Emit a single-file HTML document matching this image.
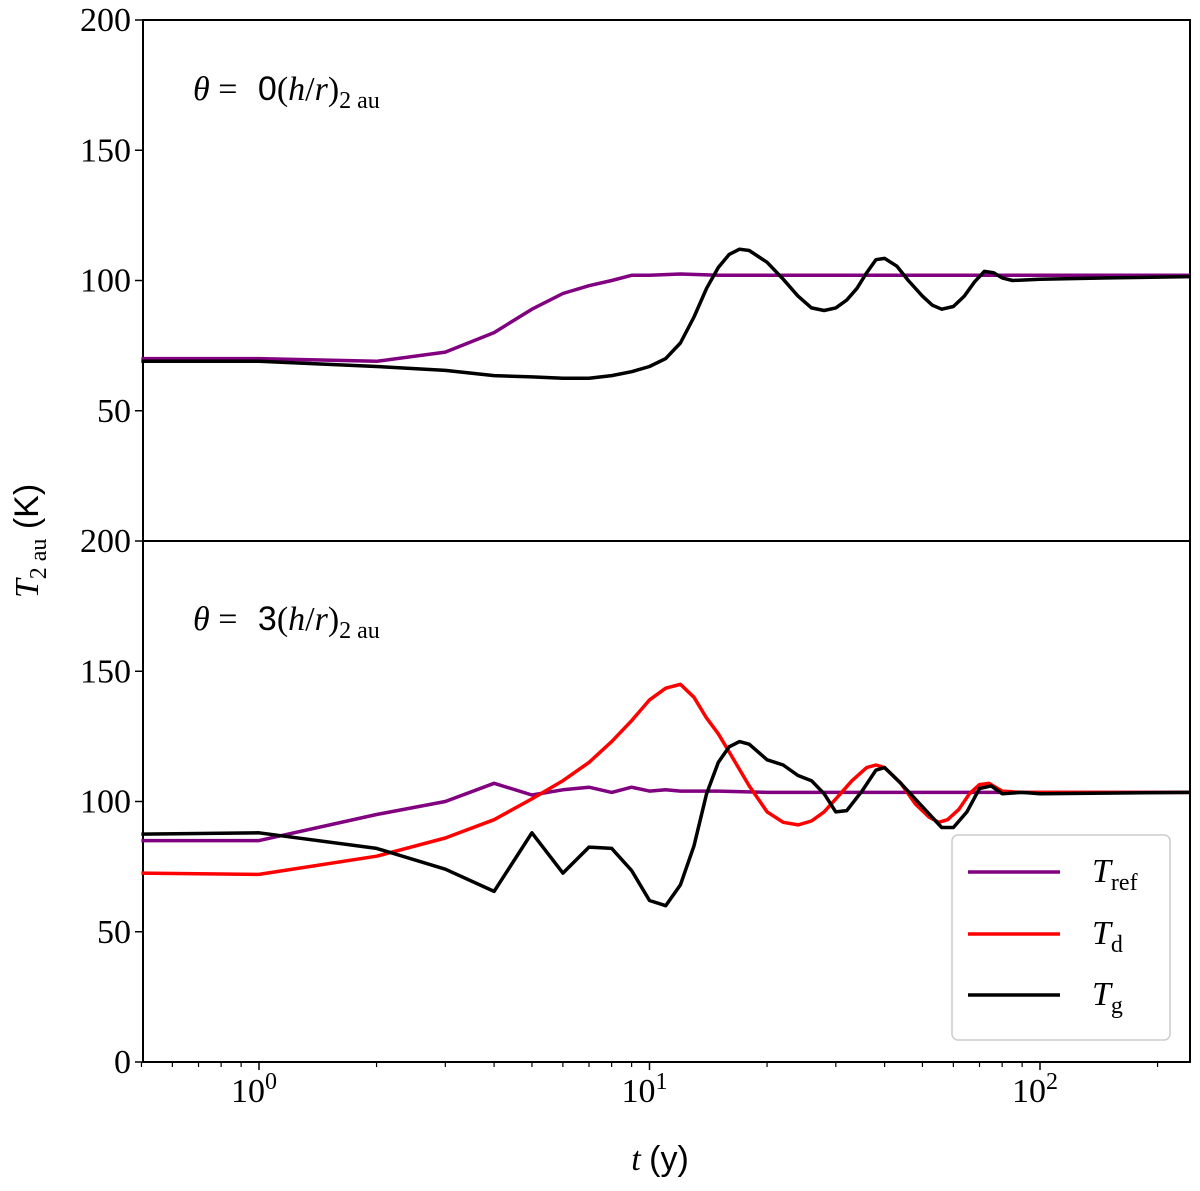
<!DOCTYPE html>
<html><head><meta charset="utf-8"><style>
body{margin:0;background:#fff}
svg text{font-family:"Liberation Serif","DejaVu Serif",serif;fill:#000}
</style></head><body>
<svg id="c" width="1200" height="1186" xmlns="http://www.w3.org/2000/svg"></svg>
<script>
// ---- data ----
const topRefT=[0.5,1,2,3,4,5,6,7,8,9,10,12,15,20,50,100,242];
const topRefV=[70,70,69,72.5,80,89,95,98,100,102,102,102.5,102,102,102,102,102];
const topGasT=[0.5,1,2,3,4,5,6,7,8,9,10,11,12,13,14,15,16,17,18,20,22,24,26,28,30,32,34,36,38,40,43,46,50,53,56,60,64,68,72,76,80,85,100,150,242];
const topGasV=[69,69,67,65.5,63.5,63,62.5,62.5,63.5,65,67,70,76,86,97,105,110,112,111.5,107,100.5,94,89.5,88.5,89.5,92.5,97,103,108,108.5,105.5,100,94,90.5,89,90,94,99.5,103.5,103,101,100,100.5,101,101.5];
const botRefT=[0.5,1,2,3,4,5,6,7,8,9,10,11,12,13,15,20,30,50,100,242];
const botRefV=[85,85,95,100,107,102.5,104.5,105.5,103.5,105.5,104,104.5,104,104,104,103.5,103.5,103.5,103.5,103.5];
const botDustT=[0.5,1,2,3,4,5,6,7,8,9,10,11,12,13,14,15,16,18,20,22,24,26,28,30,33,36,38,40,44,48,52,55,58,62,66,70,74,80,90,100,242];
const botDustV=[72.5,72,79,86,93,101,108,115,123,131,139,143.5,145,140,132,126,119,106,96,92,91,92.5,96,101,108,113,114,113,107,99,94,92,93,97,103,106.5,107,104,103.5,103.5,103.5];
const botGasT=[0.5,1,2,3,4,5,6,7,8,9,10,11,12,13,14,15,16,17,18,20,22,24,26,28,30,32,35,38,40,44,50,56,60,65,70,75,80,90,100,242];
const botGasV=[87.5,88,82,74,65.5,88,72.5,82.5,82,73.5,62,60,68,83,103,115,121,123,122,116,114,110,108,103,96,96.5,104,112,113,107,98,90,90,96,105,106,103,103.5,103,103.5];
const yTicks=[0,50,100,150,200];
const xTicks=[1,10,100];

const svg=document.getElementById('c');
const NS='http://www.w3.org/2000/svg';
const L=143,R=1190,dec=390.5,x0=259;
const X=t=>x0+dec*Math.log10(t);
function mk(tag,attrs,name,parent){const e=document.createElementNS(NS,tag);for(const k in attrs)e.setAttribute(k,attrs[k]);


(parent||svg).appendChild(e);return e;}
const panels=[{top:20,bot:541,name:'top-panel'},{top:541,bot:1062,name:'bottom-panel'}];
panels.forEach((p,pi)=>{
  const Y=v=>p.bot-(v/200)*(p.bot-p.top);
  p.Y=Y;
  mk('rect',{x:L,y:p.top,width:R-L,height:p.bot-p.top,fill:'none',stroke:'#000','stroke-width':2},p.name+'-frame');
  yTicks.forEach(v=>{
    if(pi==0&&v==0)return;
    mk('line',{x1:L-8,x2:L,y1:Y(v),y2:Y(v),stroke:'#000','stroke-width':1.5},'y-tick');
    const t=mk('text',{x:L-12,y:Y(v)+11,'text-anchor':'end','font-size':34},'y-tick-label');t.textContent=v;
  });
  if(pi==1)for(let d=-1;d<=2;d++)for(let m=1;m<10;m++){const t=m*Math.pow(10,d);if(t<0.5||t>242)continue;
    const maj=m==1;mk('line',{x1:X(t),x2:X(t),y1:p.bot,y2:p.bot+(maj?8:5),stroke:'#000','stroke-width':maj?1.5:1.2},maj?'x-tick':'x-minor-tick');}
});
xTicks.forEach((t,i)=>{const e=mk('text',{x:X(t)-5,y:1102,'text-anchor':'middle','font-size':34},'x-tick-label');
  e.innerHTML='10<tspan dy="-13" font-size="24">'+i+'</tspan>';});
function line(T,V,p,color,name){const d=T.map((t,i)=>(i?'L':'M')+X(t).toFixed(1)+','+p.Y(V[i]).toFixed(1)).join('');
  mk('path',{d:d,fill:'none',stroke:color,'stroke-width':3.5,'stroke-linejoin':'round'},name);}
line(topRefT,topRefV,panels[0],'#800080','top-tref-line');
line(topGasT,topGasV,panels[0],'#000','top-tg-line');
line(botRefT,botRefV,panels[1],'#800080','bottom-tref-line');
line(botDustT,botDustV,panels[1],'#ff0000','bottom-td-line');
line(botGasT,botGasV,panels[1],'#000','bottom-tg-line');
// annotations
[['0',100,'top-panel-label'],['3',630,'bottom-panel-label']].forEach(a=>{
  const e=mk('text',{x:193,y:a[1],'font-size':34},a[2]);
  e.innerHTML='<tspan font-style="italic">θ</tspan> =  <tspan font-family="Liberation Sans,sans-serif" dx="12">'+a[0]+'</tspan>(<tspan font-style="italic">h</tspan>/<tspan font-style="italic">r</tspan>)<tspan dy="8" font-size="24">2 au</tspan>';});
const yl=mk('text',{x:0,y:0,'font-size':34,'text-anchor':'middle',transform:'translate(38,541) rotate(-90)'},'y-axis-title');
yl.innerHTML='<tspan font-style="italic">T</tspan><tspan dy="8" font-size="24">2 au</tspan><tspan dy="-8" font-family="Liberation Sans,sans-serif"> (K)</tspan>';
const xl=mk('text',{x:660,y:1170,'font-size':34,'text-anchor':'middle'},'x-axis-title');
xl.innerHTML='<tspan font-style="italic">t</tspan> <tspan font-family="Liberation Sans,sans-serif">(y)</tspan>';
// legend
const lg=mk('g',{},'legend');
mk('rect',{x:952,y:835,width:218,height:205,rx:6,fill:'#fff',stroke:'#ccc','stroke-width':1.5},'legend-box',lg);
[['#800080','ref',872],['#ff0000','d',934],['#000','g',995]].forEach(e=>{
  mk('line',{x1:968,x2:1060,y1:e[2],y2:e[2],stroke:e[0],'stroke-width':3.5},'legend-swatch',lg);
  const t=mk('text',{x:1092,y:e[2]+10,'font-size':34},'legend-entry',lg);
  t.innerHTML='<tspan font-style="italic">T</tspan><tspan dy="8" font-size="24">'+e[1]+'</tspan>';});
</script>
</body></html>
